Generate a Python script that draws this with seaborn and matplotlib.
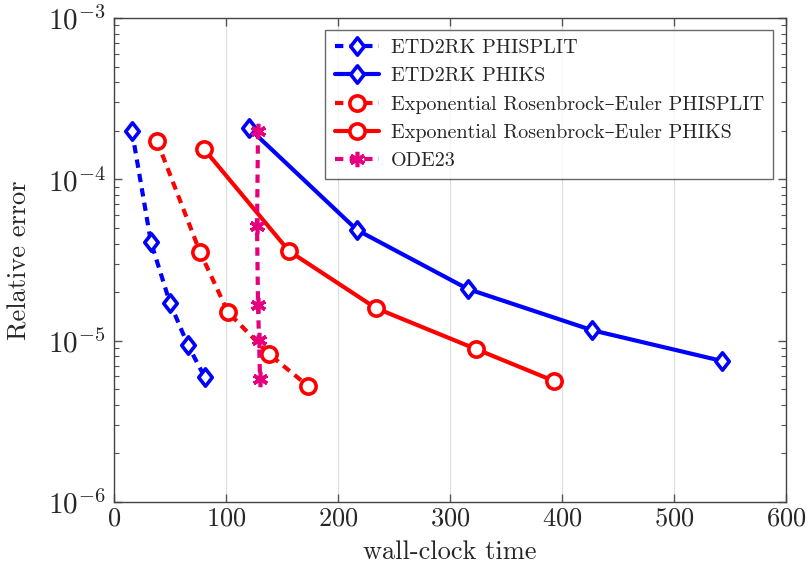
import numpy as np
import pandas as pd
import seaborn as sns
import matplotlib
matplotlib.use("Agg")
import matplotlib.pyplot as plt
from matplotlib.path import Path
from matplotlib.ticker import LogLocator, FixedLocator, NullFormatter

# ---- data ----
etd_split_x = [16, 33, 50, 66, 81]
etd_split_y = [2.0e-4, 4.08e-5, 1.71e-5, 9.4e-6, 5.94e-6]
etd_ks_x = [120.5, 217, 316, 427, 543]
etd_ks_y = [2.08e-4, 4.85e-5, 2.09e-5, 1.16e-5, 7.48e-6]
er_split_x = [38.4, 76.8, 101.8, 138.4, 173.2]
er_split_y = [1.73e-4, 3.54e-5, 1.50e-5, 8.26e-6, 5.24e-6]
er_ks_x = [80.4, 156.3, 233.9, 323.2, 392.9]
er_ks_y = [1.54e-4, 3.59e-5, 1.59e-5, 8.87e-6, 5.62e-6]
ode_x = [128.6, 127.7, 128.6, 129.5, 130.4]
ode_y = [2.0e-4, 5.14e-5, 1.66e-5, 1.01e-5, 5.78e-6]

labels = ["ETD2RK PHISPLIT", "ETD2RK PHIKS",
          "Exponential Rosenbrock–Euler PHISPLIT",
          "Exponential Rosenbrock–Euler PHIKS", "ODE23"]
x_ticks = [0, 100, 200, 300, 400, 500, 600]

sns.set_style("ticks")
plt.rcParams["font.family"] = ["cmr10", "DejaVu Serif"]
plt.rcParams["mathtext.fontset"] = "cm"
plt.rcParams["axes.formatter.use_mathtext"] = True

fig = plt.figure(figsize=(8.09, 5.66), dpi=100)
ax = fig.add_axes([0.1409, 0.1131, 0.8307, 0.8551])

blue = "#0000ff"
red = "#ff0000"
pink = "#e6007e"

diamond = Path([(0, 1), (0.78, 0), (0, -1), (-0.78, 0), (0, 1)],
               [Path.MOVETO, Path.LINETO, Path.LINETO, Path.LINETO, Path.CLOSEPOLY])

series = [
    (etd_split_x, etd_split_y, labels[0], blue, (2.0, 1.5), diamond, 12.5, True),
    (etd_ks_x, etd_ks_y, labels[1], blue, None, diamond, 12.5, True),
    (er_split_x, er_split_y, labels[2], red, (2.0, 1.5), "o", 11, True),
    (er_ks_x, er_ks_y, labels[3], red, None, "o", 11, True),
    (ode_x, ode_y, labels[4], pink, (2.0, 1.5), (6, 2, 0), 11, False),
]
for xs, ys, lab, col, dash, mk, ms, hollow in series:
    df = pd.DataFrame({"x": xs, "y": ys})
    kw = dict(marker=mk, markersize=ms, markerfacecolor="white" if hollow else col,
              markeredgecolor=col, markeredgewidth=2.6)
    sns.lineplot(data=df, x="x", y="y", ax=ax, sort=False, estimator=None,
                 color=col, linewidth=3.0, label=lab, **kw)
    l = ax.get_lines()[-1]
    if dash is not None:
        l.set_dashes(dash)

ax.set_yscale("log")
ax.set_xlim(0, 600)
ax.set_ylim(1e-6, 1e-3)
ax.xaxis.set_major_locator(FixedLocator(x_ticks))
ax.yaxis.set_major_locator(LogLocator(base=10, numticks=10))
ax.yaxis.set_minor_locator(LogLocator(base=10, subs=np.arange(2, 10), numticks=10))
ax.yaxis.set_minor_formatter(NullFormatter())
ax.tick_params(axis="both", which="both", direction="in", top=True, right=True,
               labelsize=19, color="#555555")
ax.tick_params(axis="y", which="major", labelsize=21, pad=6)
ax.tick_params(which="major", length=6, width=1)
ax.tick_params(which="minor", length=3.5, width=0.8)
ax.grid(True, axis="x", which="major", color="#dcdcdc", linewidth=0.8)
ax.set_axisbelow(True)
for s in ax.spines.values():
    s.set_color("#444444")
    s.set_linewidth(1.0)

ax.set_xlabel("wall-clock time", fontsize=19, labelpad=7)
ax.set_ylabel("Relative error", fontsize=19, labelpad=12)

leg = ax.legend(loc="upper right", bbox_to_anchor=(0.981, 0.975), borderaxespad=0,
                fontsize=14.5, frameon=True, fancybox=False, edgecolor="#444444",
                handlelength=2.2, labelspacing=0.5, borderpad=0.45, handletextpad=0.6)
leg.get_frame().set_linewidth(1.0)

fig.savefig("out.png", dpi=100)
